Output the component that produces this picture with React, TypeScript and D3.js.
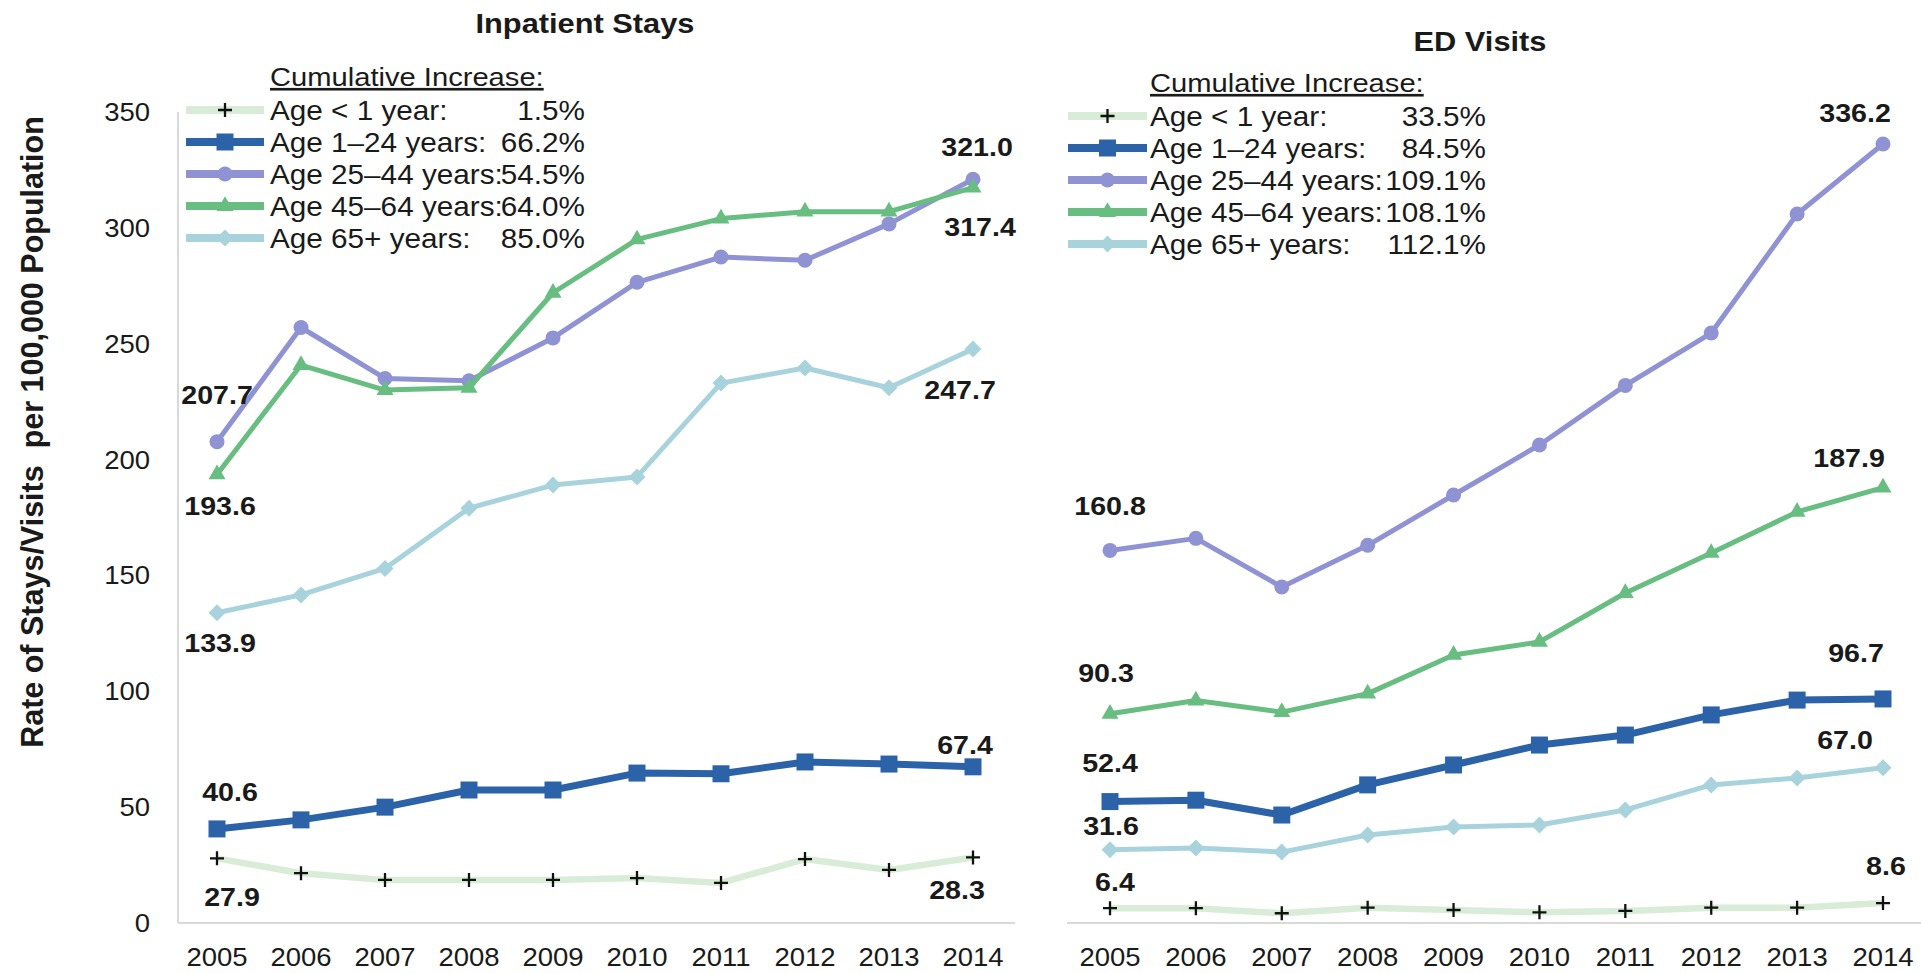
import React from "react";
import * as d3 from "d3";

const years = [2005, 2006, 2007, 2008, 2009, 2010, 2011, 2012, 2013, 2014];
const yTicks = [0, 50, 100, 150, 200, 250, 300, 350];
const seriesLabels = ["Age < 1 year:", "Age 1–24 years:", "Age 25–44 years:", "Age 45–64 years:", "Age 65+ years:"];
const seriesKeys = ["lt1", "a1_24", "a25_44", "a45_64", "a65"];

// Inpatient stays
const inpLt1 = [27.9, 21.5, 18.6, 18.6, 18.6, 19.4, 17.3, 27.6, 22.9, 28.3];
const inp1_24 = [40.6, 44.5, 50.0, 57.4, 57.4, 64.7, 64.4, 69.5, 68.6, 67.4];
const inp25_44 = [207.7, 257.0, 235.0, 234.0, 252.5, 276.5, 287.4, 286.0, 301.7, 321.0];
const inp45_64 = [193.6, 240.8, 230.0, 231.0, 272.0, 295.0, 304.0, 307.0, 307.0, 317.4];
const inp65 = [133.9, 141.6, 153.0, 179.0, 189.0, 192.5, 233.0, 239.5, 231.0, 247.7];
const inpIncrease = ["1.5%", "66.2%", "54.5%", "64.0%", "85.0%"];

// ED visits
const edLt1 = [6.4, 6.4, 4.2, 6.6, 5.6, 4.6, 5.2, 6.6, 6.6, 8.6];
const ed1_24 = [52.4, 53.0, 46.6, 59.6, 68.2, 76.8, 81.1, 89.8, 96.2, 96.7];
const ed25_44 = [160.8, 166.0, 145.0, 163.0, 184.7, 206.3, 232.0, 254.6, 306.0, 336.2];
const ed45_64 = [90.3, 96.0, 91.0, 99.0, 115.7, 121.3, 142.4, 159.7, 177.4, 187.9];
const ed65 = [31.6, 32.4, 30.6, 38.0, 41.4, 42.3, 48.8, 59.6, 62.6, 67.0];
const edIncrease = ["33.5%", "84.5%", "109.1%", "108.1%", "112.1%"];

const styles: Record<string, { color: string; width: number; marker: string; size: number }> = {
  lt1: { color: "#d8ecd8", width: 6.5, marker: "plus", size: 14 },
  a1_24: { color: "#2b62a8", width: 7, marker: "square", size: 17 },
  a25_44: { color: "#8f92d3", width: 5, marker: "circle", size: 15 },
  a45_64: { color: "#68bd80", width: 5, marker: "triangle", size: 17 },
  a65: { color: "#a9d3dc", width: 5, marker: "diamond", size: 17 },
};

const FONT = "'Liberation Sans', Arial, Helvetica, sans-serif";
const SX = 1.1;

const yScale = d3.scaleLinear().domain([0, 350]).range([923, 112]);

function T({ x, y, size, bold, anchor, children, underline }: any) {
  return (
    <text
      transform={`translate(${x},${y}) scale(${SX},1)`}
      fontSize={size}
      fontWeight={bold ? "bold" : "normal"}
      textAnchor={anchor || "start"}
      fontFamily={FONT}
      fill="#1a1a1a"
      textDecoration={underline ? "underline" : undefined}
    >
      {children}
    </text>
  );
}

function Marker({ kind, x, y, size, color }: any) {
  if (kind === "plus") {
    const h = size / 2;
    return <path d={`M${x - h},${y}H${x + h}M${x},${y - h}V${y + h}`} stroke="#111" strokeWidth={2.3} fill="none" />;
  }
  if (kind === "diamond") {
    const h = size / 2;
    return <path d={`M${x},${y - h}L${x + h},${y}L${x},${y + h}L${x - h},${y}Z`} fill={color} />;
  }
  const typ = kind === "square" ? d3.symbolSquare : kind === "circle" ? d3.symbolCircle : d3.symbolTriangle;
  const area = kind === "circle" ? Math.PI * (size / 2) ** 2 : kind === "triangle" ? (size * size * Math.sqrt(3)) / 4 : size * size;
  const p = d3.symbol().type(typ).size(area)();
  return <path d={p || ""} transform={`translate(${x},${y})`} fill={color} />;
}

function Panel({ data, range, labels, axisLine, yAxis }: any) {
  const x = d3.scalePoint<number>().domain(years).range(range);
  const line = d3
    .line<number>()
    .x((_, i) => x(years[i]) as number)
    .y((d) => yScale(d));
  return (
    <g>
      {yAxis && (
        <g>
          <line x1={axisLine[0]} x2={axisLine[0]} y1={yScale(350)} y2={yScale(0)} stroke="#d9d9d9" strokeWidth={2} />
          {yTicks.map((t) => (
            <T key={t} x={150} y={yScale(t) + 9} size={25} anchor="end">
              {t}
            </T>
          ))}
        </g>
      )}
      <line x1={axisLine[0]} x2={axisLine[1]} y1={yScale(0)} y2={yScale(0)} stroke="#d9d9d9" strokeWidth={2} />
      {years.map((yr) => (
        <T key={yr} x={x(yr)} y={966} size={25} anchor="middle">
          {yr}
        </T>
      ))}
      {seriesKeys.map((k, si) => {
        const st = styles[k];
        return (
          <g key={k}>
            <path d={line(data[si]) || ""} fill="none" stroke={st.color} strokeWidth={st.width} strokeLinejoin="round" />
            {data[si].map((v: number, i: number) => (
              <Marker key={i} kind={st.marker} x={x(years[i])} y={yScale(v)} size={st.size} color={st.color} />
            ))}
          </g>
        );
      })}
      {labels.map((l: any, i: number) => {
        const v = data[l.s][l.i];
        return (
          <T key={i} x={(x(years[l.i]) as number) + l.dx} y={yScale(v) + l.dy + 9} size={26} bold anchor="middle">
            {v.toFixed(1)}
          </T>
        );
      })}
    </g>
  );
}

function Legend({ x0, x1, xText, xVal, yHead, rows, values }: any) {
  return (
    <g>
      <T x={xText} y={yHead} size={26.5} underline>
        Cumulative Increase:
      </T>
      {seriesKeys.map((k, i) => {
        const st = styles[k];
        const y = rows[i];
        return (
          <g key={k}>
            <line x1={x0} x2={x1} y1={y} y2={y} stroke={st.color} strokeWidth={8} />
            <Marker kind={st.marker} x={(x0 + x1) / 2} y={y} size={st.size} color={st.color} />
            <T x={xText} y={y + 9.5} size={27}>
              {seriesLabels[i]}
            </T>
            <T x={xVal} y={y + 9.5} size={27} anchor="end">
              {values[i]}
            </T>
          </g>
        );
      })}
    </g>
  );
}

// label placement (series index, year index, offsets from point)
const inpLabelPos = [
  { s: 2, i: 0, dx: 0, dy: -47 },
  { s: 3, i: 0, dx: 3, dy: 32 },
  { s: 4, i: 0, dx: 3, dy: 30 },
  { s: 1, i: 0, dx: 13, dy: -37 },
  { s: 0, i: 0, dx: 15, dy: 39 },
  { s: 2, i: 9, dx: 4, dy: -32 },
  { s: 3, i: 9, dx: 7, dy: 39 },
  { s: 4, i: 9, dx: -13, dy: 41 },
  { s: 1, i: 9, dx: -8, dy: -22 },
  { s: 0, i: 9, dx: -16, dy: 33 },
];
const edLabelPos = [
  { s: 2, i: 0, dx: 0, dy: -44 },
  { s: 3, i: 0, dx: -4, dy: -41 },
  { s: 1, i: 0, dx: 0, dy: -39 },
  { s: 4, i: 0, dx: 1, dy: -24 },
  { s: 0, i: 0, dx: 5, dy: -26 },
  { s: 2, i: 9, dx: -28, dy: -31 },
  { s: 3, i: 9, dx: -34, dy: -30 },
  { s: 1, i: 9, dx: -27, dy: -46 },
  { s: 4, i: 9, dx: -38, dy: -28 },
  { s: 0, i: 9, dx: 3, dy: -37 },
];

export default function App() {
  const inpData = [inpLt1, inp1_24, inp25_44, inp45_64, inp65];
  const edData = [edLt1, ed1_24, ed25_44, ed45_64, ed65];
  return (
    <div style={{ position: "fixed", left: 0, top: 0, background: "#fff" }}>
      <svg width={1921} height={973} style={{ display: "block", background: "#fff" }}>
        <T x={585} y={33} size={28} bold anchor="middle">
          Inpatient Stays
        </T>
        <T x={1480} y={51} size={28} bold anchor="middle">
          ED Visits
        </T>
        <text
          transform="translate(43,432) rotate(-90)"
          fontSize={30.5}
          fontWeight="bold"
          textAnchor="middle"
          fontFamily={FONT}
          fill="#1a1a1a"
          xmlSpace="preserve"
        >
          Rate of Stays/Visits  per 100,000 Population
        </text>
        <Legend x0={186} x1={264} xText={270} xVal={585} yHead={86} rows={[110, 142, 174, 206, 238]} values={inpIncrease} />
        <Legend x0={1068} x1={1147} xText={1150} xVal={1486} yHead={92} rows={[116, 148, 180, 212, 244]} values={edIncrease} />
        <Panel data={inpData} range={[217, 973]} labels={inpLabelPos} axisLine={[178, 1015]} yAxis />
        <Panel data={edData} range={[1110, 1883]} labels={edLabelPos} axisLine={[1067, 1921]} />
      </svg>
    </div>
  );
}
